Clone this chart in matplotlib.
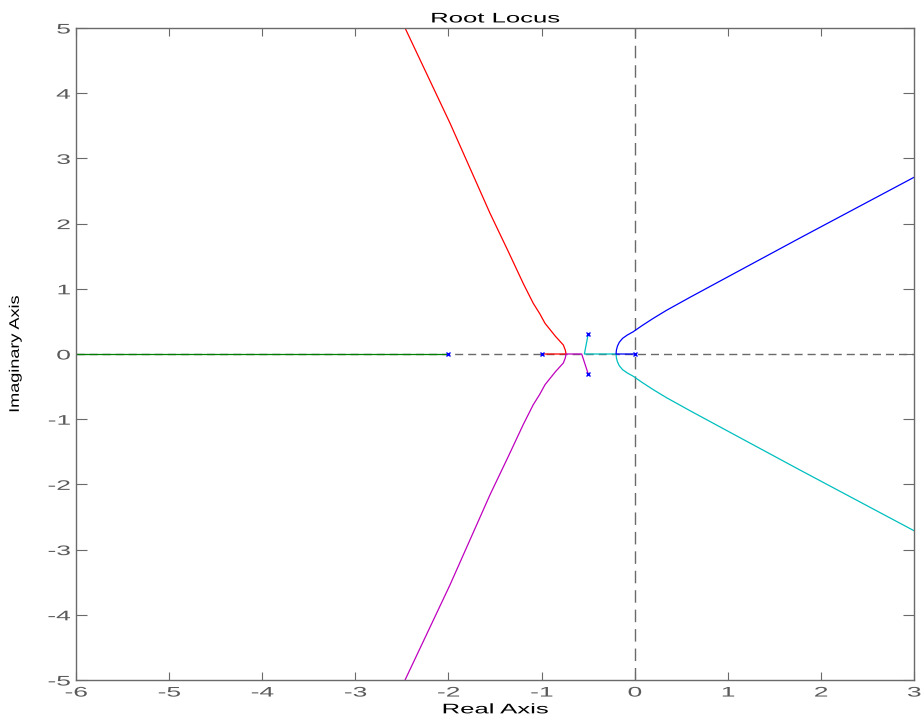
import matplotlib
matplotlib.use("Agg")
import matplotlib.pyplot as plt
from matplotlib.patheffects import AbstractPathEffect
from matplotlib.transforms import Affine2D

# ---- data ----
pole_re = [-2.0, -1.0, 0.0, -0.5, -0.5]
pole_im = [0.0, 0.0, 0.0, 0.3, -0.3]

green_re = [-2.0, -6.0]
green_im = [0.0, 0.0]

red_re = [-1.0, -0.737, -0.745, -0.766, -0.85, -0.963, -1.02, -1.089, -1.196,
          -1.35, -1.554, -1.983, -2.466, -2.50]
red_im = [0.0, 0.0, 0.06, 0.138, 0.27, 0.471, 0.62, 0.777, 1.08,
          1.55, 2.16, 3.54, 5.0, 5.1]

magenta_re = [-0.5, -0.569, -0.737, -0.745, -0.766, -0.85, -0.963, -1.02, -1.089,
              -1.196, -1.35, -1.554, -1.983, -2.466, -2.50]
magenta_im = [-0.3, 0.0, 0.0, -0.06, -0.138, -0.27, -0.471, -0.62, -0.777,
              -1.08, -1.55, -2.16, -3.54, -5.0, -5.1]

cyan_re = [-0.5, -0.54, -0.2, -0.196, -0.185, -0.165, -0.13, -0.08, -0.015, 0.08,
           0.2, 0.343, 0.6, 1.059, 1.776, 2.492, 3.0, 3.05]
cyan_im = [0.3, 0.0, 0.0, -0.06, -0.12, -0.18, -0.24, -0.29, -0.342, -0.436,
           -0.547, -0.671, -0.874, -1.228, -1.78, -2.324, -2.71, -2.75]

blue_re = [0.0, -0.2, -0.196, -0.185, -0.165, -0.13, -0.08, -0.015, 0.08,
           0.2, 0.343, 0.6, 1.059, 1.776, 2.492, 3.0, 3.05]
blue_im = [0.0, 0.0, 0.06, 0.12, 0.18, 0.24, 0.29, 0.342, 0.436,
           0.547, 0.671, 0.874, 1.228, 1.78, 2.324, 2.71, 2.75]

x_ticks = [-6, -5, -4, -3, -2, -1, 0, 1, 2, 3]
y_ticks = [-5, -4, -3, -2, -1, 0, 1, 2, 3, 4, 5]

title_text = "Root Locus"
xlabel_text = "Real Axis"
ylabel_text = "Imaginary Axis"


class Stretch(AbstractPathEffect):
    """Draw text stretched along its reading direction (still a real Text)."""
    def __init__(self, sx, anchor="center"):
        super().__init__()
        self.sx = sx
        self.anchor = anchor

    def draw_path(self, renderer, gc, tpath, affine, rgbFace=None):
        v = tpath.vertices
        if len(v):
            x0, x1 = v[:, 0].min(), v[:, 0].max()
        else:
            x0 = x1 = 0.0
        a = {"left": x0, "center": 0.5 * (x0 + x1), "right": x1}[self.anchor]
        t = Affine2D().translate(-a, 0).scale(self.sx, 1.0).translate(a, 0) + affine
        renderer.draw_path(gc, tpath, t, rgbFace)


plt.rcParams["font.family"] = ["Liberation Sans", "DejaVu Sans"]
plt.rcParams["axes.unicode_minus"] = False
plt.rcParams["lines.scale_dashes"] = False

fig = plt.figure(figsize=(9.24, 7.25), dpi=100)
ax = fig.add_axes([76 / 924, 45 / 725, 838 / 924, 652 / 725])

grey = "#6a6a6a"
ax.axhline(0, color=grey, lw=1.0, ls=(0, (5.8, 3.6)), zorder=1)
ax.axvline(0, color=grey, lw=1.0, ls=(0, (9.0, 5.0)), zorder=1)

lw = 0.9
ax.plot(green_re, green_im, color=(0, 0.5, 0), lw=lw, zorder=2)
ax.plot(red_re, red_im, color=(1, 0, 0), lw=lw, zorder=2)
ax.plot(magenta_re, magenta_im, color=(0.75, 0, 0.75), lw=lw, zorder=2)
ax.plot(cyan_re, cyan_im, color=(0, 0.75, 0.75), lw=lw, zorder=2)
ax.plot(blue_re, blue_im, color=(0, 0, 1), lw=lw, zorder=2)
ax.plot(pole_re, pole_im, ls="none", marker="x", color=(0, 0, 1),
        markersize=3.5, mew=1.0, zorder=3)

ax.set_xlim(-6, 3)
ax.set_ylim(-5, 5)
ax.set_xticks(x_ticks)
ax.set_yticks(y_ticks)
ax.set_xticklabels([str(v) for v in x_ticks])
ax.set_yticklabels([str(v) for v in y_ticks])

for s in ax.spines.values():
    s.set_color(grey)
    s.set_linewidth(1.0)

ax.tick_params(axis="both", direction="in", top=True, right=True,
               color=grey, labelcolor="#5a5a5a", labelsize=10, width=0.8)
ax.tick_params(axis="x", length=6, pad=4)
ax.tick_params(axis="y", length=8, pad=4)

for lbl in ax.get_xticklabels():
    lbl.set_path_effects([Stretch(1.9, "center")])
for lbl in ax.get_yticklabels():
    lbl.set_path_effects([Stretch(1.9, "right")])

t = ax.set_title(title_text, fontsize=10, color="black", pad=4)
t.set_path_effects([Stretch(1.85, "center")])
xl = ax.set_xlabel(xlabel_text, fontsize=10, color="black", labelpad=2)
xl.set_path_effects([Stretch(1.85, "center")])
yl = ax.set_ylabel(ylabel_text, fontsize=10, color="black", labelpad=26)
yl.set_path_effects([Stretch(1.3, "center")])

fig.savefig("out.png", dpi=100)
